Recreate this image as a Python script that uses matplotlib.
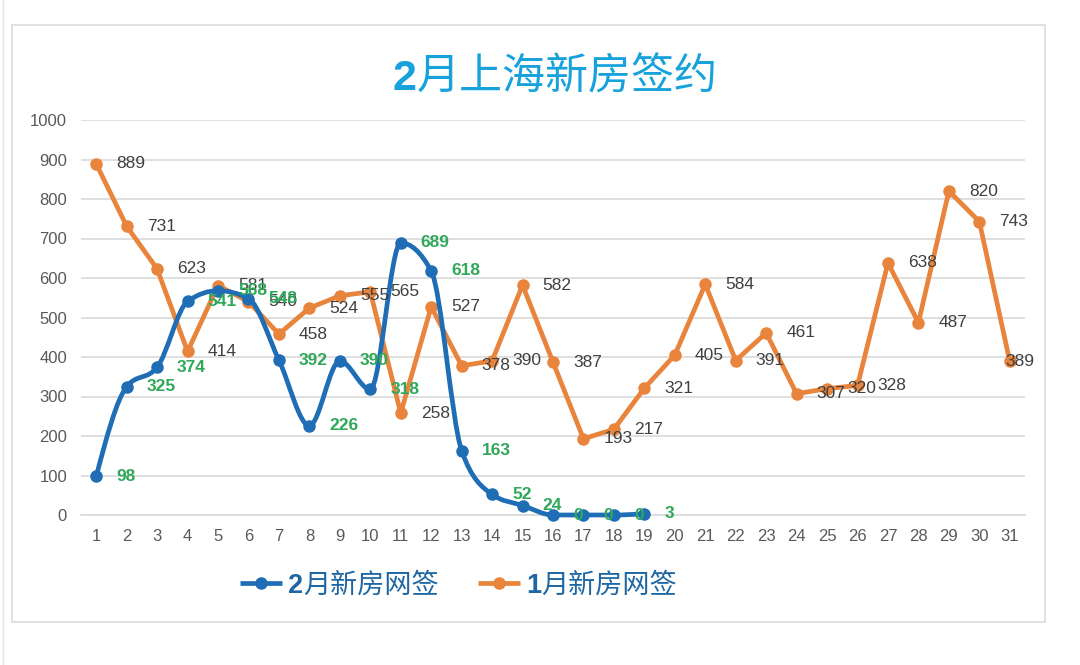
import matplotlib
matplotlib.use("Agg")
import matplotlib.pyplot as plt
from matplotlib.path import Path
from matplotlib.patches import PathPatch, Rectangle
from matplotlib.lines import Line2D
import numpy as np

plt.rcParams['font.family'] = ['Liberation Sans', 'Noto Sans CJK SC', 'DejaVu Sans']

days = list(range(1, 32))
feb_days = list(range(1, 20))
feb_values = [98, 325, 374, 541, 568, 548, 392, 226, 390, 318, 689, 618, 163, 52, 24, 0, 0, 0, 3]
jan_values = [889, 731, 623, 414, 581, 540, 458, 524, 555, 565, 258, 527, 378, 390, 582, 387,
              193, 217, 321, 405, 584, 391, 461, 307, 320, 328, 638, 487, 820, 743, 389]
yticks = list(range(0, 1001, 100))
title_num, title_rest = "2", "月上海新房签约"
feb_num, feb_rest = "2", "月新房网签"
jan_num, jan_rest = "1", "月新房网签"

BLUE = '#1f6db4'
ORANGE = '#e8843c'
GREEN = '#2fa85a'
GREY_TXT = '#404040'
TICK_TXT = '#595959'
GRID = '#d9d9d9'
LEG_TXT = '#1f67a3'
TITLE_C = '#18a2dc'

W, H = 1080, 665
fig = plt.figure(figsize=(W / 100, H / 100), dpi=100)
fig.patch.set_facecolor('white')

def fx(px):
    return px / W

def fy(py):
    return 1 - py / H

# outer frame
fig.add_artist(Rectangle((fx(12), fy(622)), (1045 - 12) / W, (622 - 25) / H,
                         transform=fig.transFigure, fill=False, edgecolor='#dcdcdc', lw=1.2))
fig.add_artist(Line2D([fx(3), fx(3)], [0, 1], transform=fig.transFigure, color='#e3e3e3', lw=1))

ax = fig.add_axes([fx(81), fy(515), (1025 - 81) / W, (515 - 120) / H])
ax.set_xlim(0.5, 31.5)
ax.set_ylim(0, 1000)
ax.set_yticks(yticks)
ax.set_xticks(days)
ax.grid(axis='y', color=GRID, lw=1.2)
ax.set_axisbelow(True)
for s in ['top', 'right', 'left']:
    ax.spines[s].set_visible(False)
ax.spines['bottom'].set_color(GRID)
ax.spines['bottom'].set_linewidth(1.2)
ax.tick_params(axis='both', length=0, labelsize=12, colors=TICK_TXT)
ax.tick_params(axis='y', pad=10)
ax.tick_params(axis='x', pad=10)

# orange straight line
ax.plot(days, jan_values, color=ORANGE, lw=3.4, marker='o', ms=8, zorder=3, clip_on=False)

# blue smoothed line (monotone cubic bezier through the data points)
x = np.array(feb_days, dtype=float)
y = np.array(feb_values, dtype=float)
h = np.diff(x)
s = np.diff(y) / h
n = len(x)
m = np.zeros(n)
for i in range(1, n - 1):
    p = (s[i - 1] * h[i] + s[i] * h[i - 1]) / (h[i - 1] + h[i])
    m[i] = (np.sign(s[i - 1]) + np.sign(s[i])) * min(abs(s[i - 1]), abs(s[i]), 0.5 * abs(p))
m[0] = (3 * s[0] - m[1]) / 2
m[-1] = (3 * s[-1] - m[-2]) / 2
verts = [(x[0], y[0])]
codes = [Path.MOVETO]
for i in range(n - 1):
    d = h[i] / 3
    verts += [(x[i] + d, y[i] + m[i] * d), (x[i + 1] - d, y[i + 1] - m[i + 1] * d), (x[i + 1], y[i + 1])]
    codes += [Path.CURVE4] * 3
patch = PathPatch(Path(verts, codes), fill=False, edgecolor=BLUE, lw=3.4, zorder=4,
                  capstyle='round', joinstyle='round', clip_on=False)
ax.add_patch(patch)
ax.plot(feb_days, feb_values, ls='none', color=BLUE, marker='o', ms=8, zorder=5, clip_on=False)

# data labels
for d, v in zip(days, jan_values):
    dx = 20 if d < 31 else -4
    ax.annotate(str(v), (d, v), xytext=(dx, 0), textcoords='offset pixels',
                ha='left', va='center', fontsize=12.5, color=GREY_TXT, zorder=6,
                annotation_clip=False)
for d, v in zip(feb_days, feb_values):
    ax.annotate(str(v), (d, v), xytext=(20, 0), textcoords='offset pixels',
                ha='left', va='center', fontsize=12.5, color=GREEN, fontweight='bold',
                zorder=7, annotation_clip=False)

def mixed_text(x_px, base_px, num, rest, size, color):
    t1 = fig.text(fx(x_px), fy(base_px), num, ha='left', va='baseline', fontsize=size,
                  color=color, fontweight='bold', family=['Liberation Sans'])
    fig.canvas.draw()
    t2 = fig.text(0, 0, '')
    t2.remove()
    ann = fig.add_artist(matplotlib.text.Annotation(
        rest, xy=(1, fy(base_px)), xycoords=(t1, 'figure fraction'),
        ha='left', va='baseline', fontsize=size, color=color,
        family=['Noto Sans CJK SC', 'DejaVu Sans']))
    return t1, ann

# title
mixed_text(393, 90, title_num, title_rest, 31, TITLE_C)

# legend (manual)
leg_y = 583
for (x0, col, num, rest) in [(240, BLUE, feb_num, feb_rest), (478, ORANGE, jan_num, jan_rest)]:
    fig.add_artist(Line2D([fx(x0), fx(x0 + 42)], [fy(leg_y), fy(leg_y)], transform=fig.transFigure,
                          color=col, lw=3.4, solid_capstyle='butt'))
    fig.add_artist(Line2D([fx(x0 + 21)], [fy(leg_y)], transform=fig.transFigure,
                          color=col, marker='o', ms=8, ls='none'))
    mixed_text(x0 + 48, leg_y + 10, num, rest, 19.5, LEG_TXT)

fig.savefig('out.png', dpi=100)
